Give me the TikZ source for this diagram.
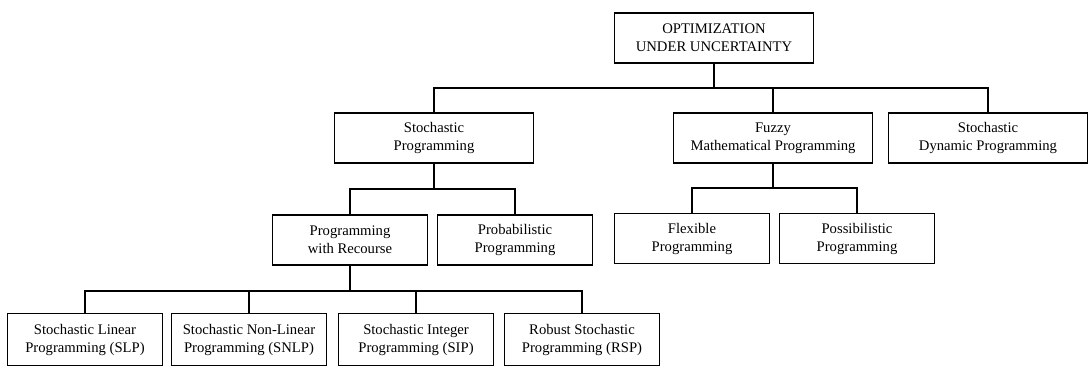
\documentclass[tikz,border=0pt]{standalone}
\usepackage{fontspec}
\setmainfont{Liberation Serif}
\usetikzlibrary{positioning}

\tikzset{
  box/.style={draw, line width=0.8pt, align=center, inner sep=2pt,
    font=\fontsize{11}{13.5}\selectfont, minimum height=37.5pt},
  widebox/.style={box, minimum width=149pt},
  smallbox/.style={box, minimum width=116pt},
  link/.style={line width=0.8pt}
}

\begin{document}
\begin{tikzpicture}[x=0.75pt, y=-0.75pt]
\useasboundingbox (0,0) rectangle (1088,368);

% top level
\node[widebox] (opt) at (714,38) {OPTIMIZATION\\UNDER UNCERTAINTY};

% second level
\node[widebox] (sp) at (434,138) {Stochastic\\Programming};
\node[widebox] (fmp) at (773,138) {Fuzzy\\Mathematical Programming};
\node[widebox] (sdp) at (988,138) {Stochastic\\Dynamic Programming};

% third level
\node[smallbox] (pwr) at (350,240) {Programming\\with Recourse};
\node[smallbox] (prob) at (515,240) {Probabilistic\\Programming};
\node[smallbox] (flex) at (692,238.5) {Flexible\\Programming};
\node[smallbox] (poss) at (857,238.5) {Possibilistic\\Programming};

% fourth level
\node[smallbox, minimum height=39pt] (slp) at (85,339.5) {Stochastic Linear\\Programming (SLP)};
\node[smallbox, minimum height=39pt] (snlp) at (249,339.5) {Stochastic Non-Linear\\Programming (SNLP)};
\node[smallbox, minimum height=39pt] (sip) at (416,339.5) {Stochastic Integer\\Programming (SIP)};
\node[smallbox, minimum height=39pt] (rsp) at (582,339.5) {Robust Stochastic\\Programming (RSP)};

% junctions
\coordinate (j1) at (714,88);
\coordinate (j2) at (434,189);
\coordinate (j3) at (773,188);
\coordinate (j4) at (350,291);

\draw[link] (opt.south) -- (j1);
\draw[link] (j1) -| (sp.north);
\draw[link] (j1) -| (fmp.north);
\draw[link] (j1) -| (sdp.north);

\draw[link] (sp.south) -- (j2);
\draw[link] (j2) -| (pwr.north);
\draw[link] (j2) -| (prob.north);

\draw[link] (fmp.south) -- (j3);
\draw[link] (j3) -| (flex.north);
\draw[link] (j3) -| (poss.north);

\draw[link] (pwr.south) -- (j4);
\draw[link] (j4) -| (slp.north);
\draw[link] (j4) -| (snlp.north);
\draw[link] (j4) -| (sip.north);
\draw[link] (j4) -| (rsp.north);
\end{tikzpicture}
\end{document}
